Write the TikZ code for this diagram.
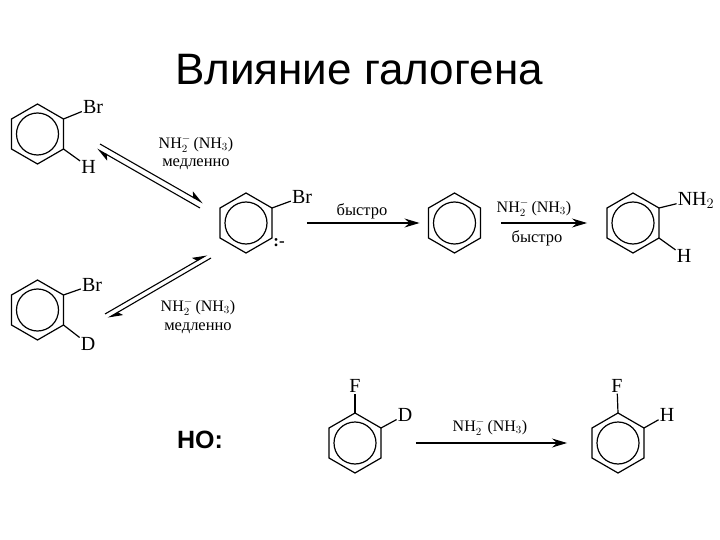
\documentclass[tikz,border=0pt]{standalone}
\usepackage{fontspec}
\setmainfont{Liberation Serif}
\newfontfamily\headfont{Liberation Sans}
\usetikzlibrary{shapes.geometric,arrows.meta}

\newcommand{\amide}{NH$_{2}^{-}$\,(NH$_{3}$)}

\begin{document}
\begin{tikzpicture}[x=1pt,y=-1pt,
hexring/.style={regular polygon,regular polygon sides=6,regular polygon rotate=30,draw=black,line width=1.2pt,minimum size=60pt,inner sep=0pt,outer sep=0pt},
innerring/.style={circle,draw=black,line width=1.2pt,minimum size=42pt,inner sep=0pt},
atom/.style={font=\fontsize{20}{20}\selectfont,inner sep=1pt,text height=13pt,text depth=0pt},
reagent/.style={font=\fontsize{16}{16}\selectfont,inner sep=0pt},
condition/.style={font=\fontsize{16.5}{17}\selectfont,inner sep=0pt}]

\tikzset{bond/.style={line width=1.2pt},
rxnarrow/.style={-{Stealth[length=15pt,width=9pt,inset=5pt]},line width=1.1pt},
eqarrow/.style={-{Stealth[harpoon,length=13pt,width=10pt,inset=3pt]},line width=1.1pt}}

\useasboundingbox (0,0) rectangle (720,540);

\node[font=\headfont\fontsize{44}{44}\selectfont,inner sep=0pt] (title) at (359,70) {Влияние галогена};
\node[font=\headfont\bfseries\fontsize{25}{25}\selectfont,inner sep=0pt] (but) at (200,440) {НО:};

% rings
\foreach \ringname/\ringpos in {r1/{37.5,134},r2/{37.5,310},r3/{246,223},r4/{454.5,223},r5/{633,223},r6/{355,443},r7/{618,443}}{
  \node[hexring] (\ringname) at (\ringpos) {};
  \node[innerring] (\ringname c) at (\ringname) {};
}

% atoms
\node[atom] (br1) at (93,107) {Br};
\node[atom] (h1) at (88.5,167) {H};
\node[atom] (br2) at (92,285) {Br};
\node[atom] (d2) at (88,344) {D};
\node[atom] (br3) at (302,197) {Br};
\node[atom] (nh5) at (696,199) {NH$_{2}$};
\node[atom] (h5) at (684,256) {H};
\node[atom] (f6) at (355,386) {F};
\node[atom] (d6) at (405,415) {D};
\node[atom] (f7) at (617,386) {F};
\node[atom] (h7) at (667,415) {H};
\node[inner sep=0pt,font=\bfseries\fontsize{17}{17}\selectfont] (lone3) at (279,243) {:-};

\draw[bond] (r1.corner 6) -- (br1);
\draw[bond] (r1.corner 5) -- (h1);
\draw[bond] (r2.corner 6) -- (br2);
\draw[bond] (r2.corner 5) -- (d2);
\draw[bond] (r3.corner 6) -- (br3);
\draw[bond] (r5.corner 6) -- (nh5);
\draw[bond] (r5.corner 5) -- (h5);
\draw[bond] (r6.corner 1) -- (f6);
\draw[bond] (r6.corner 6) -- (d6);
\draw[bond] (r7.corner 1) -- (f7);
\draw[bond] (r7.corner 6) -- (h7);

% equilibria
\coordinate (eq1a) at (100,144);
\coordinate (eq1b) at (203,203);
\coordinate (eq1c) at (97,149);
\coordinate (eq1d) at (200,208);
\coordinate (eq2a) at (105,314);
\coordinate (eq2b) at (207,255);
\coordinate (eq2c) at (108,318);
\coordinate (eq2d) at (211,258);
\draw[eqarrow] (eq1a) -- (eq1b);
\draw[eqarrow] (eq1d) -- (eq1c);
\draw[eqarrow] (eq2a) -- (eq2b);
\draw[eqarrow] (eq2d) -- (eq2c);

% reactions
\draw[rxnarrow,shorten <=35pt,shorten >=9pt] (r3.east) -- (r4.west);
\draw[rxnarrow,shorten <=21pt,shorten >=20pt] (r4.east) -- (r5.west);
\draw[rxnarrow,shorten <=35pt,shorten >=25pt] (r6.east) -- (r7.west);

\node[reagent] (amide1) at (196,144) {\amide};
\node[condition] (slow1) at (196,164) {медленно};
\node[reagent] (amide2) at (198,307) {\amide};
\node[condition] (slow2) at (198,328) {медленно};
\node[condition] (fast1) at (362,211) {быстро};
\node[reagent] (amide3) at (534,208) {\amide};
\node[condition] (fast2) at (537,238) {быстро};
\node[reagent] (amide4) at (490,427) {\amide};

\end{tikzpicture}
\end{document}
